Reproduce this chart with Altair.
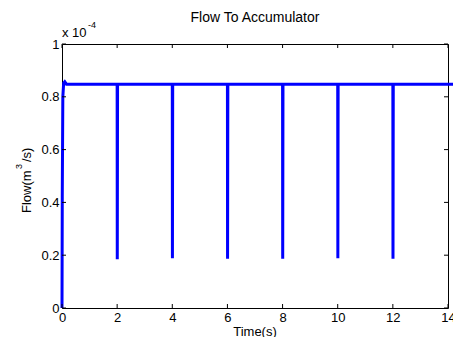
import altair as alt
import pandas as pd

# ---- data (flow in units of 1e-4 m^3/s) ----
base_level = 0.848
start_times = [0.0, 0.01, 0.03, 0.06, 0.1, 0.16]
start_values = [0.0, 0.42, 0.80, 0.852, 0.857, 0.848]
dip_times = [2, 4, 6, 8, 10, 12]
dip_minima = [0.185, 0.188, 0.187, 0.187, 0.188, 0.187]
end_time = 14.2
x_ticks = [0, 2, 4, 6, 8, 10, 12, 14]
y_ticks = [0, 0.2, 0.4, 0.6, 0.8, 1]

title_text = ["Flow To Accumulator"]
xlabel_text = ["Time(s)"]
ylabel_parts = ["Flow(m", "3", "/s)"]
exp_parts = ["x 10", "-4"]

FONT = "Liberation Sans"
BLUE = "#0000ff"
W, H = 386, 264

rows = [{"t": t, "v": v} for t, v in zip(start_times, start_values)]
for t, m in zip(dip_times, dip_minima):
    rows += [{"t": t, "v": base_level}, {"t": t + 0.005, "v": m}, {"t": t + 0.015, "v": base_level}]
rows.append({"t": end_time, "v": base_level})
df = pd.DataFrame(rows)
df["i"] = range(len(df))

xscale = alt.Scale(domain=[0, 14], nice=False)
yscale = alt.Scale(domain=[0, 1], nice=False)

xaxis = alt.Axis(values=x_ticks, labelFlush=False, ticks=False, tickSize=0, domain=False,
                 grid=False, title=None, labelPadding=3, labelFontSize=13, labelFont=FONT,
                 labelColor="black", labelOverlap=False)
yaxis = alt.Axis(values=y_ticks, format="~g", labelFlush=False, ticks=False, tickSize=0,
                 domain=False, grid=False, title=None, labelPadding=3, labelFontSize=13,
                 labelFont=FONT, labelColor="black", labelOverlap=False)

line = alt.Chart(df).mark_line(color=BLUE, strokeWidth=3, clip=False).encode(
    x=alt.X("t:Q", scale=xscale, axis=xaxis),
    y=alt.Y("v:Q", scale=yscale, axis=yaxis),
    order="i:Q",
)

xt = pd.DataFrame({"t": x_ticks})
yt = pd.DataFrame({"v": y_ticks})
tick_style = dict(color="black", strokeWidth=1)
xb = alt.Chart(xt).mark_rule(**tick_style).encode(
    x=alt.X("t:Q", scale=xscale, axis=xaxis), y=alt.value(H), y2=alt.value(H - 4))
xtp = alt.Chart(xt).mark_rule(**tick_style).encode(
    x=alt.X("t:Q", scale=xscale, axis=xaxis), y=alt.value(0), y2=alt.value(4))
yl = alt.Chart(yt).mark_rule(**tick_style).encode(
    y=alt.Y("v:Q", scale=yscale, axis=yaxis), x=alt.value(0), x2=alt.value(4))
yr = alt.Chart(yt).mark_rule(**tick_style).encode(
    y=alt.Y("v:Q", scale=yscale, axis=yaxis), x=alt.value(W), x2=alt.value(W - 4))


def txt(s, x, y, size=13, align="center", baseline="alphabetic", angle=0):
    kw = dict(font=FONT, fontSize=size, color="black", align=align, baseline=baseline)
    if angle:
        kw["angle"] = angle
    return alt.Chart(pd.DataFrame({"s": [s]})).mark_text(**kw).encode(
        text="s:N", x=alt.value(x), y=alt.value(y))


texts = [
    txt(title_text[0], 193, -22, size=14),
    txt(xlabel_text[0], 193, 282, baseline="top"),
    txt(ylabel_parts[0], -31, 169, align="left", angle=270),
    txt(ylabel_parts[1], -40, 125, size=9, align="left", angle=270),
    txt(ylabel_parts[2], -31, 118, align="left", angle=270),
    txt(exp_parts[0], 0, -7, align="left"),
    txt(exp_parts[1], 26, -16, size=9, align="left"),
]

chart = alt.layer(line, xb, xtp, yl, yr, *texts).properties(
    width=W, height=H,
    autosize=alt.AutoSizeParams(type="none"),
    padding={"left": 62, "top": 44, "right": 5, "bottom": 29},
    background="white",
).configure_view(stroke="black", strokeWidth=1)

chart.save("out.html", embed_options={"renderer": "svg", "actions": False})
